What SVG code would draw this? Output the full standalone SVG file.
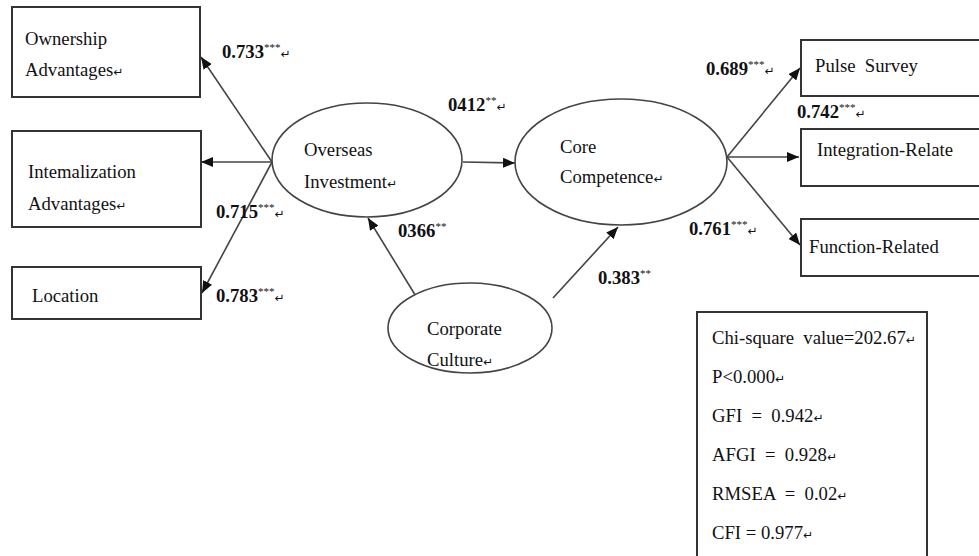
<svg xmlns="http://www.w3.org/2000/svg" width="979" height="556" viewBox="0 0 979 556">
<style>
.box{fill:#fff;stroke:#333;stroke-width:2}
.ell{fill:#fff;stroke:#444;stroke-width:1.6}
.t{font-family:"Liberation Serif","Times New Roman",serif;font-size:18.7px;fill:#111;white-space:pre}
.b{font-family:"Liberation Serif","Times New Roman",serif;font-size:18.7px;font-weight:bold;fill:#111}
.sup{font-size:11px;font-weight:normal}
.rm{font-size:12px;font-weight:normal;font-family:"DejaVu Sans",sans-serif}
.c{stroke:#444;stroke-width:1.6;fill:none;marker-end:url(#ah)}
</style>
<defs>
<marker id="ah" viewBox="0 0 12 10" refX="12" refY="5" markerWidth="12" markerHeight="10" markerUnits="userSpaceOnUse" orient="auto">
<path d="M0,0 L12,5 L0,10 Z" fill="#111"/>
</marker>
</defs>
<rect width="979" height="556" fill="#fff"/>

<g id="connectors">
<line class="c" x1="272" y1="162" x2="201" y2="57"/>
<line class="c" x1="272" y1="162" x2="201" y2="162"/>
<line class="c" x1="272" y1="162" x2="202" y2="293"/>
<line class="c" x1="463" y1="162" x2="515" y2="163"/>
<line class="c" x1="417" y1="298" x2="368" y2="218"/>
<line class="c" x1="553" y1="298" x2="618" y2="227"/>
<line class="c" x1="727" y1="157" x2="800" y2="68"/>
<line class="c" x1="727" y1="157" x2="799" y2="157"/>
<line class="c" x1="727" y1="157" x2="800" y2="245"/>
</g>

<g id="ownership">
<rect class="box" x="12" y="7" width="188" height="90"/>
<text class="t" x="25" y="45">Ownership</text>
<text class="t" x="25" y="76">Advantages<tspan class="rm">↵</tspan></text>
</g>
<g id="internalization">
<rect class="box" x="12" y="131" width="189" height="96"/>
<text class="t" x="28" y="178">Intemalization</text>
<text class="t" x="28" y="210">Advantages<tspan class="rm">↵</tspan></text>
</g>
<g id="location">
<rect class="box" x="12" y="267" width="189" height="52"/>
<text class="t" x="32" y="302">Location</text>
</g>

<g id="overseas">
<ellipse class="ell" cx="367" cy="160" rx="95" ry="57"/>
<text class="t" x="304" y="156">Overseas</text>
<text class="t" x="304" y="188">Investment<tspan class="rm">↵</tspan></text>
</g>
<g id="core">
<ellipse class="ell" cx="621" cy="162" rx="106" ry="63"/>
<text class="t" x="560" y="153">Core</text>
<text class="t" x="560" y="183">Competence<tspan class="rm">↵</tspan></text>
</g>
<g id="culture">
<ellipse class="ell" cx="470" cy="328" rx="82" ry="45"/>
<text class="t" x="427" y="335">Corporate</text>
<text class="t" x="427" y="366">Culture<tspan class="rm">↵</tspan></text>
</g>

<g id="pulse">
<rect class="box" x="801" y="40" width="200" height="56"/>
<text class="t" x="815" y="72">Pulse  Survey</text>
</g>
<g id="integration">
<rect class="box" x="801" y="129" width="200" height="57"/>
<text class="t" x="817" y="156">Integration-Relate</text>
</g>
<g id="function">
<rect class="box" x="801" y="219" width="200" height="57"/>
<text class="t" x="809" y="253">Function-Related</text>
</g>

<g id="labels">
<text class="b" x="222" y="58">0.733<tspan class="sup" dy="-7">***</tspan><tspan class="rm" dy="7">↵</tspan></text>
<text class="b" x="216" y="218">0.715<tspan class="sup" dy="-7">***</tspan><tspan class="rm" dy="7">↵</tspan></text>
<text class="b" x="216" y="302">0.783<tspan class="sup" dy="-7">***</tspan><tspan class="rm" dy="7">↵</tspan></text>
<text class="b" x="448" y="111">0412<tspan class="sup" dy="-7">**</tspan><tspan class="rm" dy="7">↵</tspan></text>
<text class="b" x="398" y="237">0366<tspan class="sup" dy="-7">**</tspan></text>
<text class="b" x="598" y="284">0.383<tspan class="sup" dy="-7">**</tspan></text>
<text class="b" x="706" y="75">0.689<tspan class="sup" dy="-7">***</tspan><tspan class="rm" dy="7">↵</tspan></text>
<text class="b" x="797" y="118">0.742<tspan class="sup" dy="-7">***</tspan><tspan class="rm" dy="7">↵</tspan></text>
<text class="b" x="689" y="235">0.761<tspan class="sup" dy="-7">***</tspan><tspan class="rm" dy="7">↵</tspan></text>
</g>

<g id="stats">
<rect class="box" x="697" y="312" width="230" height="250"/>
<text class="t" x="712" y="344">Chi-square  value=202.67<tspan class="rm">↵</tspan></text>
<text class="t" x="712" y="383">P&lt;0.000<tspan class="rm">↵</tspan></text>
<text class="t" x="712" y="422">GFI  =  0.942<tspan class="rm">↵</tspan></text>
<text class="t" x="712" y="461">AFGI  =  0.928<tspan class="rm">↵</tspan></text>
<text class="t" x="712" y="500">RMSEA  =  0.02<tspan class="rm">↵</tspan></text>
<text class="t" x="712" y="539">CFI = 0.977<tspan class="rm">↵</tspan></text>
</g>
</svg>
